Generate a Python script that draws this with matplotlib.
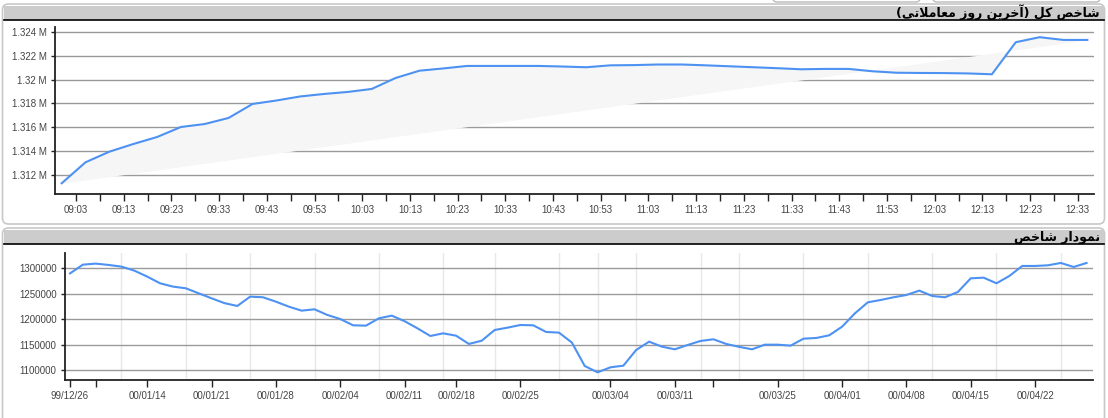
import numpy as np
import pandas as pd
import matplotlib
matplotlib.use("Agg")
import matplotlib.pyplot as plt
import matplotlib.dates as mdates
from matplotlib.patches import FancyBboxPatch, Rectangle
from matplotlib.ticker import FuncFormatter, FixedLocator

W, H = 1108, 418
LINE = "#4d92f2"
GRID = "#9a9a9a"
TXT = "#444444"
plt.rcParams["font.family"] = ["Liberation Sans", "DejaVu Sans"]

# ---- top panel: total index, last trading day (values in millions) ----
intraday_times = pd.date_range("2021-07-20 09:00", "2021-07-20 12:35", freq="5min")
intraday_index = [1.31131, 1.31307, 1.31396, 1.31460, 1.31519, 1.31603, 1.31628, 1.31679,
                  1.31796, 1.31825, 1.31859, 1.31880, 1.31897, 1.31922, 1.32014, 1.32075,
                  1.32094, 1.32115, 1.32115, 1.32115, 1.32115, 1.32110, 1.32104, 1.32120,
                  1.32122, 1.32127, 1.32127, 1.32120, 1.32112, 1.32104, 1.32096, 1.32087,
                  1.32090, 1.32090, 1.32070, 1.32058, 1.32056, 1.32055, 1.32052, 1.32045,
                  1.32314, 1.32356, 1.32333, 1.32333]
top_title = "شاخص کل (آخرین روز معاملاتی)"

# ---- bottom panel: daily index ----
daily_index = [1290000, 1307200, 1309200, 1306600, 1303300, 1295400, 1283600, 1270500,
               1264000, 1260700, 1250800, 1241000, 1231500, 1225900, 1244300, 1243000,
               1234400, 1224600, 1216700, 1219400, 1208200, 1200300, 1187900, 1187200,
               1201600, 1206900, 1196000, 1182000, 1166900, 1172100, 1167500, 1151200,
               1157700, 1178700, 1183300, 1188500, 1187900, 1174800, 1173500, 1154000,
               1107900, 1095400, 1105300, 1108500, 1139400, 1155700, 1145900, 1140700,
               1149200, 1157100, 1160400, 1151200, 1145500, 1140700, 1149800, 1149800,
               1147900, 1161600, 1163000, 1168200, 1185200, 1211500, 1233100, 1237700,
               1243000, 1247500, 1256100, 1245600, 1243000, 1253500, 1280300, 1281600,
               1270500, 1284900, 1304600, 1304600, 1305900, 1310500, 1302600, 1310500]
date_tick_pos = [0, 2, 6, 11, 16, 21, 26, 30, 35, 42, 47, 50, 55, 60, 65, 70, 75]
date_tick_lbl = ["99/12/26", "", "00/01/14", "00/01/21", "00/01/28", "00/02/04", "00/02/11",
                 "00/02/18", "00/02/25", "00/03/04", "00/03/11", "", "00/03/25", "00/04/01",
                 "00/04/08", "00/04/15", "00/04/22"]
date_grid_pos = [2, 4, 6, 9, 11, 14, 16, 19, 21, 24, 26, 29, 30, 33, 35, 38, 41, 44, 47, 49,
                 52, 55, 57, 60, 62, 65, 67, 70, 72, 75, 77]
bottom_title = "نمودار شاخص"


# minimal Persian shaping (matplotlib has no bidi / contextual shaping)
DUAL = {"ش": (0xFEB5, 0xFEB6, 0xFEB7, 0xFEB8), "خ": (0xFEA5, 0xFEA6, 0xFEA7, 0xFEA8),
        "ص": (0xFEB9, 0xFEBA, 0xFEBB, 0xFEBC), "ک": (0xFB8E, 0xFB8F, 0xFB90, 0xFB91),
        "ل": (0xFEDD, 0xFEDE, 0xFEDF, 0xFEE0), "ی": (0xFBFC, 0xFBFD, 0xFBFE, 0xFBFF),
        "ن": (0xFEE5, 0xFEE6, 0xFEE7, 0xFEE8), "م": (0xFEE1, 0xFEE2, 0xFEE3, 0xFEE4),
        "ع": (0xFEC9, 0xFECA, 0xFECB, 0xFECC), "ت": (0xFE95, 0xFE96, 0xFE97, 0xFE98)}
RIGHT = {"ا": (0xFE8D, 0xFE8E), "آ": (0xFE81, 0xFE82), "ر": (0xFEAD, 0xFEAE),
         "ز": (0xFEAF, 0xFEB0), "و": (0xFEED, 0xFEEE), "د": (0xFEA9, 0xFEAA)}
LAMALEF = {"ا": (0xFEFB, 0xFEFC), "آ": (0xFEF5, 0xFEF6)}


def rtl(s):
    out, i = [], 0
    while i < len(s):
        c, prev = s[i], (s[i - 1] if i else "")
        nxt = s[i + 1] if i + 1 < len(s) else ""
        p = prev in DUAL
        if c == "ل" and nxt in LAMALEF:
            out.append(chr(LAMALEF[nxt][1 if p else 0])); i += 2; continue
        if c in DUAL:
            n = nxt in DUAL or nxt in RIGHT
            iso, fin, ini, med = DUAL[c]
            out.append(chr(med if p and n else fin if p else ini if n else iso))
        elif c in RIGHT:
            out.append(chr(RIGHT[c][1 if p else 0]))
        else:
            out.append(c)
        i += 1
    return "".join(out)[::-1].translate(str.maketrans("()", ")("))


def frac(x0, y0, x1, y1):
    return [x0 / W, 1 - y1 / H, (x1 - x0) / W, (y1 - y0) / H]


fig = plt.figure(figsize=(W / 100, H / 100), dpi=100)

# page furniture: panel frames + header bars
bg = fig.add_axes([0, 0, 1, 1], zorder=-5)
bg.set_xlim(0, W); bg.set_ylim(H, 0); bg.axis("off")
for y0, y1 in [(4, 224), (228, 430)]:
    bg.add_patch(FancyBboxPatch((2.5, y0), W - 6, y1 - y0, boxstyle="round,pad=0,rounding_size=6",
                                fc="white", ec="#c8c8c8", lw=1.2))
    bg.add_patch(Rectangle((3.5, y0 + 1.5), W - 8, 14, fc="#cccccc", ec="none"))
    bg.plot([3.5, W - 4.5], [y0 + 15.5, y0 + 15.5], color="black", lw=1.2)
for xa, xb in [(773, 920), (933, 1100)]:
    bg.add_patch(FancyBboxPatch((xa, -10), xb - xa, 12, boxstyle="round,pad=0,rounding_size=4",
                                fc="white", ec="#bbbbbb", lw=1))
kw = dict(ha="right", va="center", fontsize=9, fontweight="bold", family=["DejaVu Sans"])
bg.text(1100, 12.5, rtl(top_title), **kw)
bg.text(1100, 237, rtl(bottom_title), **kw)


def style(ax):
    for s in ("top", "right"):
        ax.spines[s].set_visible(False)
    for s in ("left", "bottom"):
        ax.spines[s].set_color("#222222"); ax.spines[s].set_linewidth(1.3)
    ax.tick_params(axis="both", which="both", colors="#222222", labelcolor=TXT, labelsize=7,
                   direction="out", width=1)
    ax.tick_params(axis="y", length=3, pad=3)
    ax.set_axisbelow(True)


# top chart
ax1 = fig.add_axes(frac(55, 26.7, 1094, 194))
t = mdates.date2num(intraday_times)
v = np.array(intraday_index)
chord = np.linspace(v[0], v[-1], len(v))
ax1.fill_between(t, v, chord, color="#f6f6f6", lw=0)
ax1.plot(t, v, color=LINE, lw=1.5, solid_joinstyle="round")
ax1.set_xlim(t[0] - 1.4 / 1440, t[0] + 216.4 / 1440)
ax1.set_ylim(1.31041, 1.32444)
ax1.set_yticks(np.arange(1.312, 1.3245, 0.002))
ax1.yaxis.set_major_formatter(FuncFormatter(lambda y, _: f"{round(y, 3):g} M"))
ax1.xaxis.set_major_locator(mdates.MinuteLocator(byminute=[3, 13, 23, 33, 43, 53]))
ax1.xaxis.set_minor_locator(mdates.MinuteLocator(byminute=[8, 18, 28, 38, 48, 58]))
ax1.xaxis.set_major_formatter(mdates.DateFormatter("%H:%M"))
style(ax1)
ax1.tick_params(axis="x", which="both", length=5, pad=3)
ax1.grid(axis="y", color=GRID, lw=1)

# bottom chart
ax2 = fig.add_axes(frac(65, 253.3, 1093, 380))
xi = np.arange(len(daily_index))
ax2.plot(xi, daily_index, color=LINE, lw=1.5, solid_joinstyle="round")
ax2.set_xlim(-0.39, 79.5)
ax2.set_ylim(1080330, 1329500)
ax2.set_yticks(range(1100000, 1300001, 50000))
ax2.yaxis.set_major_formatter(FuncFormatter(lambda y, _: f"{int(y)}"))
ax2.set_xticks(date_tick_pos)
ax2.set_xticklabels(date_tick_lbl)
ax2.xaxis.set_minor_locator(FixedLocator(date_grid_pos))
style(ax2)
ax2.tick_params(axis="x", which="major", length=5, pad=3)
ax2.tick_params(axis="x", which="minor", length=0)
ax2.grid(axis="y", color=GRID, lw=1)
ax2.grid(axis="x", which="minor", color="#e8e8e8", lw=1)

fig.savefig("out.png", dpi=100)
